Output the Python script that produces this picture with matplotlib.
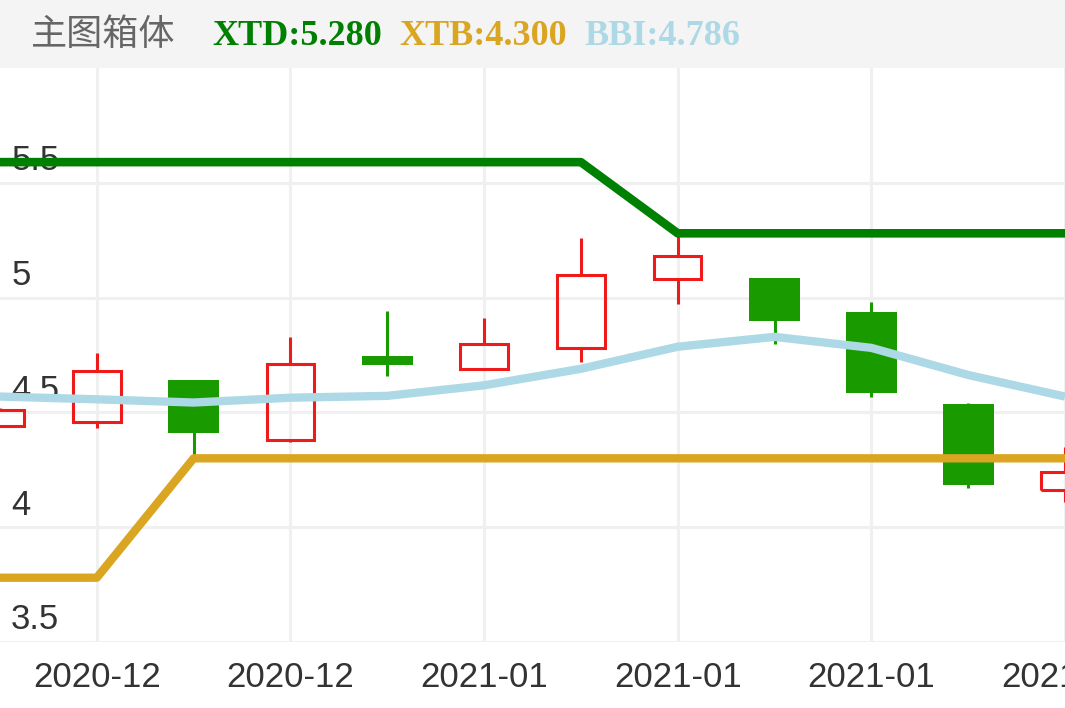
import matplotlib
matplotlib.use("Agg")
import matplotlib.pyplot as plt
import matplotlib.transforms as mtransforms
from matplotlib.patches import Rectangle

# ----------------------------------------------------------------------
# data
# ----------------------------------------------------------------------

OPEN = [4.44, 4.46, 4.64, 4.38, 4.745, 4.69, 4.78, 5.08, 5.085, 4.936, 4.537, 4.16]
CLOSE = [4.51, 4.68, 4.41, 4.71, 4.705, 4.80, 5.10, 5.18, 4.896, 4.583, 4.184, 4.24]
HIGH = [4.52, 4.76, 4.64, 4.83, 4.94, 4.91, 5.26, 5.27, 5.085, 4.982, 4.543, 4.35]
LOW = [4.44, 4.43, 4.31, 4.37, 4.66, 4.69, 4.72, 4.97, 4.80, 4.569, 4.169, 4.11]

XTD = [5.59, 5.59, 5.59, 5.59, 5.59, 5.59, 5.59, 5.28, 5.28, 5.28, 5.28, 5.28]
XTB = [3.78, 3.78, 4.30, 4.30, 4.30, 4.30, 4.30, 4.30, 4.30, 4.30, 4.30, 4.30]
BBI = [4.569, 4.557, 4.543, 4.564, 4.572, 4.618, 4.69, 4.786, 4.829, 4.781, 4.663, 4.569]

TICK_POS = [1, 3, 5, 7, 9, 11]
TICK_LABELS = ["2020-12", "2020-12", "2021-01", "2021-01", "2021-01", "2021-01"]
Y_TICKS = [3.5, 4, 4.5, 5, 5.5]
Y_TICK_LABELS = ["3.5", "4", "4.5", "5", "5.5"]

TITLE = "主图箱体"
LEGEND = [("XTD:5.280", "#008000"), ("XTB:4.300", "#DAA520"), ("BBI:4.786", "#ADD8E6")]

UP_COLOR = "#ef1b1b"
DOWN_COLOR = "#199b00"

# ----------------------------------------------------------------------
# figure
# ----------------------------------------------------------------------

fig = plt.figure(figsize=(10.65, 7.08), dpi=100)
ax = fig.add_axes([0.0, 66 / 708, 1.0, 574 / 708])

# header band
fig.patches.append(Rectangle((0, 640 / 708), 1, 68 / 708, transform=fig.transFigure,
                             facecolor="#f4f4f4", edgecolor="none", zorder=0))
fig.text(0.029, 0.950, TITLE, fontsize=26, color="#666666", va="center", ha="left",
         family=["Noto Sans CJK SC", "DejaVu Sans"])
for (txt, col), x in zip(LEGEND, [0.199, 0.375, 0.549]):
    fig.text(x, 0.949, txt, fontsize=26, color=col, va="center", ha="left",
             family="Liberation Serif", fontweight="bold")

# candles
x = list(range(len(OPEN)))
for i in x:
    o, c, h, l = OPEN[i], CLOSE[i], HIGH[i], LOW[i]
    top, bot = max(o, c), min(o, c)
    if c >= o:
        ax.bar(i, top - bot, bottom=bot, width=0.49, facecolor="none",
               edgecolor=UP_COLOR, linewidth=2.2, zorder=3)
        ax.vlines(i, top, h, color=UP_COLOR, linewidth=2.2, zorder=3)
        ax.vlines(i, l, bot, color=UP_COLOR, linewidth=2.2, zorder=3)
    else:
        ax.vlines(i, l, h, color=DOWN_COLOR, linewidth=2.2, zorder=3)
        ax.bar(i, top - bot, bottom=bot, width=0.525, facecolor=DOWN_COLOR,
               edgecolor="none", zorder=3)

# indicator lines
ax.plot(x, XTD, color="#008000", linewidth=6.2, zorder=5, solid_capstyle="butt")
ax.plot(x, XTB, color="#DAA520", linewidth=6.0, zorder=5, solid_capstyle="butt")
ax.plot(x, BBI, color="#ADD8E6", linewidth=6.0, zorder=5, solid_capstyle="butt")

ax.set_xlim(0, 11)
ax.set_ylim(3.5, 6.0)
ax.set_xticks(TICK_POS)
ax.set_xticklabels(TICK_LABELS, fontsize=25, color="#333333", family="Liberation Sans")
ax.set_yticks(Y_TICKS)
ax.tick_params(axis="x", length=0, pad=14)
ax.tick_params(axis="y", length=0, labelleft=False)
ax.grid(True, color="#f0f0f0", linewidth=2.2, zorder=0)
ax.set_axisbelow(True)
for s in ax.spines.values():
    s.set_visible(False)

trans = mtransforms.offset_copy(ax.get_yaxis_transform(), fig=fig, x=8, y=9, units="points")
for v, lab in zip(Y_TICKS, Y_TICK_LABELS):
    ax.text(0, v, lab, transform=trans, fontsize=25, color="#333333", ha="left",
            va="baseline", family="Liberation Sans", zorder=2)

fig.savefig("out.png", dpi=100)
